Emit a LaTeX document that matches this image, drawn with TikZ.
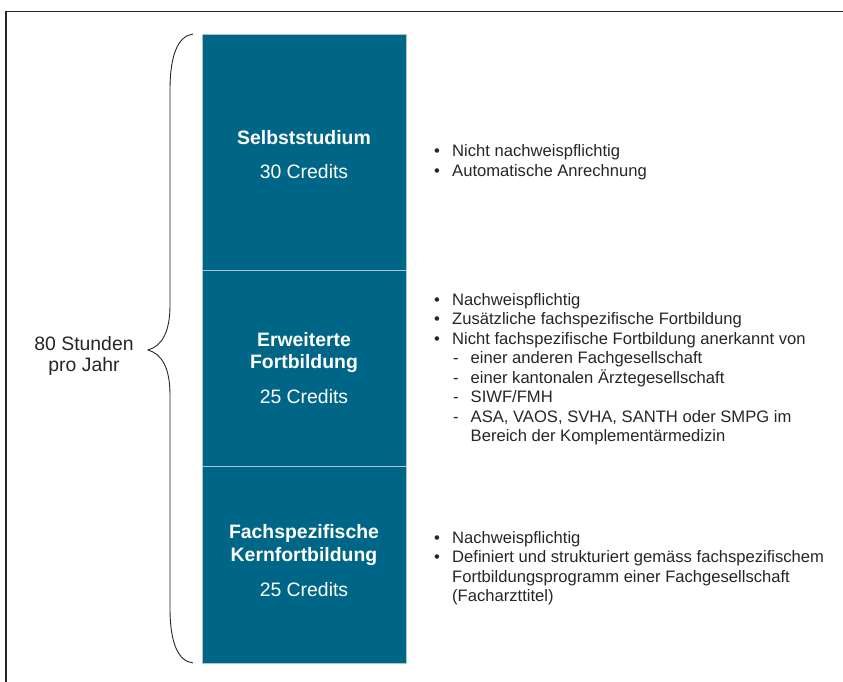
\documentclass[tikz,border=0pt]{standalone}
\usepackage{fontspec}
\setmainfont{Liberation Sans}
\definecolor{boxblue}{RGB}{0,102,136}
\definecolor{boxedge}{RGB}{170,196,206}
\definecolor{txt}{RGB}{38,38,38}
\begin{document}
\begin{tikzpicture}[x=1pt,y=-1pt,
  blk/.style={fill=boxblue, draw=boxedge, line width=0.9pt, minimum width=204pt, inner sep=0pt},
  ttl/.style={text=white, font=\fontsize{19.4}{22}\selectfont\bfseries, inner sep=0pt, anchor=base},
  cred/.style={text=white, font=\fontsize{19.4}{22}\selectfont, inner sep=0pt, anchor=base},
  lt/.style={text=txt, font=\fontsize{19.4}{22}\selectfont, inner sep=0pt, anchor=base},
  bul/.style={text=txt, font=\fontsize{16.6}{19}\selectfont, inner sep=0pt, anchor=base},
  itm/.style={text=txt, font=\fontsize{16.6}{19}\selectfont, inner sep=0pt, anchor=base west},
  frame/.style={draw=black!85, line width=1.4pt},
  brace/.style={draw=black!85, line width=0.9pt}
]
\useasboundingbox (0,0) rectangle (843,682);
% frame
\coordinate (fbl) at (6,682);
\coordinate (ftl) at (6,11.5);
\coordinate (ftr) at (843,11.5);
\draw[frame] (fbl) -- (ftl) -- (ftr);

% boxes
\node[blk, minimum height=236pt] (b1) at (304,152) {};
\node[blk, minimum height=196pt] (b2) at (304,368) {};
\node[blk, minimum height=197pt] (b3) at (304,564.5) {};

% box texts
\node[ttl] (t1) at (304,145) {Selbststudium};
\node[cred] (c1) at (304,178.5) {30 Credits};
\node[ttl] (t2a) at (304,346.5) {Erweiterte};
\node[ttl] (t2b) at (304,368.5) {Fortbildung};
\node[cred] (c2) at (304,403.5) {25 Credits};
\node[ttl] (t3a) at (304,538.5) {Fachspezifische};
\node[ttl] (t3b) at (304,561) {Kernfortbildung};
\node[cred] (c3) at (304,596) {25 Credits};

% brace
\coordinate (bt) at (193,34);
\coordinate (bb) at (193,663);
\coordinate (bm) at (148,350);
\draw[brace] (bt) .. controls (178,36) and (170,55) .. (170,90)
  -- (170,305) .. controls (170,332) and (162,346) .. (bm)
  .. controls (162,354) and (170,368) .. (170,395)
  -- (170,608) .. controls (170,643) and (178,661) .. (bb);

% left label
\node[lt] (l1) at (84,350.5) {80 Stunden};
\node[lt] (l2) at (84,371) {pro Jahr};

% block 1 list
\node[bul] (p1a) at (437,157) {•};
\node[itm] (i1a) at (452,157) {Nicht nachweispflichtig};
\node[bul] (p1b) at (437,176.5) {•};
\node[itm] (i1b) at (452,176.5) {Automatische Anrechnung};

% block 2 list
\node[bul] (p2a) at (437,305) {•};
\node[itm] (i2a) at (452,305) {Nachweispflichtig};
\node[bul] (p2b) at (437,324.5) {•};
\node[itm] (i2b) at (452,324.5) {Zusätzliche fachspezifische Fortbildung};
\node[bul] (p2c) at (437,344) {•};
\node[itm] (i2c) at (452,344) {Nicht fachspezifische Fortbildung anerkannt von};
\node[bul] (d2a) at (456,363.5) {-};
\node[itm] (j2a) at (470.5,363.5) {einer anderen Fachgesellschaft};
\node[bul] (d2b) at (456,383) {-};
\node[itm] (j2b) at (470.5,383) {einer kantonalen Ärztegesellschaft};
\node[bul] (d2c) at (456,402.5) {-};
\node[itm] (j2c) at (470.5,402.5) {SIWF/FMH};
\node[bul] (d2d) at (456,422) {-};
\node[itm] (j2d) at (470.5,422) {ASA, VAOS, SVHA, SANTH oder SMPG im};
\node[itm] (j2e) at (470.5,441.5) {Bereich der Komplementärmedizin};

% block 3 list
\node[bul] (p3a) at (437,543) {•};
\node[itm] (i3a) at (452,543) {Nachweispflichtig};
\node[bul] (p3b) at (437,562.5) {•};
\node[itm] (i3b) at (452,562.5) {Definiert und strukturiert gemäss fachspezifischem};
\node[itm] (i3c) at (452,582) {Fortbildungsprogramm einer Fachgesellschaft};
\node[itm] (i3d) at (452,601.5) {(Facharzttitel)};
\end{tikzpicture}
\end{document}
